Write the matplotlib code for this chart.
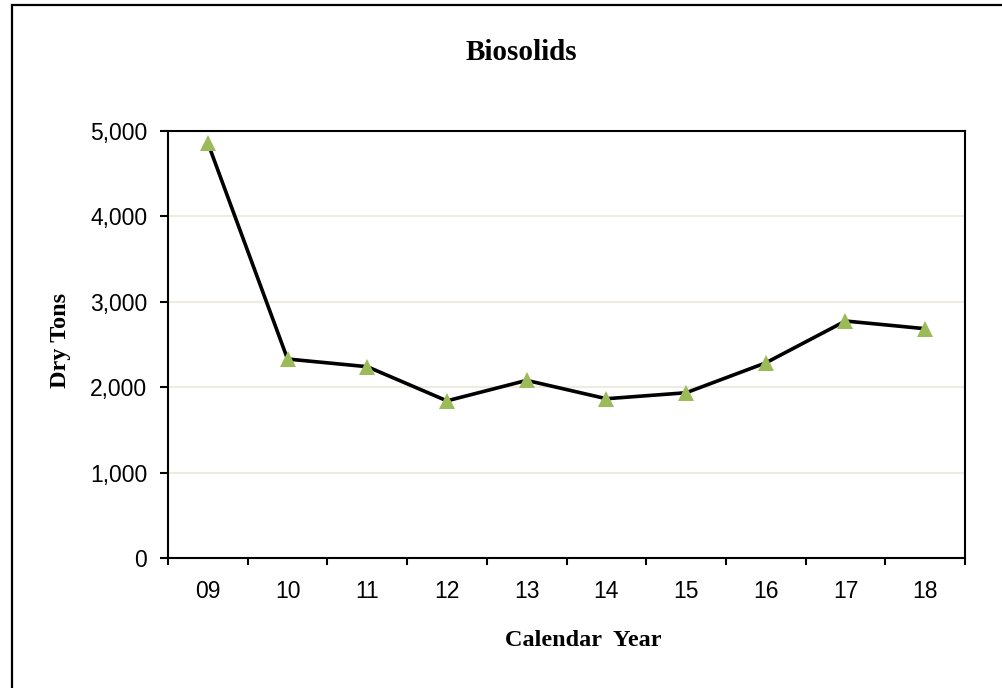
import numpy as np
import matplotlib
matplotlib.use("Agg")
import matplotlib.pyplot as plt
from matplotlib.patches import Rectangle
from matplotlib.ticker import FuncFormatter, FixedLocator

years = ['09', '10', '11', '12', '13', '14', '15', '16', '17', '18']
dry_tons = [4860, 2330, 2240, 1840, 2080, 1865, 1935, 2285, 2775, 2685]

fig = plt.figure(figsize=(10.03, 6.88), dpi=100)
ax = fig.add_axes([168/1003, 1 - 558/688, (965-168)/1003, (558-131)/688])

x = np.arange(len(years))
ax.plot(x, dry_tons, color='black', lw=2.6, marker='^', markersize=11.5,
        markerfacecolor='#9BBB59', markeredgewidth=0, zorder=3)

ax.set_xlim(-0.5, len(years) - 0.5)
ax.set_ylim(0, 5000)
ax.set_yticks(np.arange(0, 5001, 1000))
ax.yaxis.set_major_formatter(FuncFormatter(lambda v, p: f'{int(v):,}'))
ax.yaxis.grid(True, color='#EEECE1', lw=1.5, zorder=0)

ax.set_xticks(x)
ax.set_xticklabels(years)
ax.xaxis.set_minor_locator(FixedLocator(np.arange(-0.5, len(years), 1)))
ax.tick_params(axis='x', which='major', length=0, pad=16)
ax.tick_params(axis='x', which='minor', length=5, width=1.5, direction='out')
ax.tick_params(axis='y', length=6, width=1.5, direction='out', pad=9)
for lab in ax.get_xticklabels() + ax.get_yticklabels():
    lab.set_fontfamily('Liberation Sans')
    lab.set_fontsize(16.5)

for sp in ax.spines.values():
    sp.set_linewidth(1.5)
    sp.set_color('black')

fig.text(521/1003, 1 - 52/688, 'Biosolids', ha='center', va='center',
         family='Liberation Serif', weight='bold', fontsize=21)
fig.text(583/1003, 1 - 640/688, 'Calendar  Year', ha='center', va='center',
         family='Liberation Serif', weight='bold', fontsize=17.5)
fig.text(61/1003, 1 - 340/688, 'Dry Tons', ha='center', va='center', rotation=90,
         family='Liberation Serif', weight='bold', fontsize=17.5)

# outer chart border (right/bottom edges fall outside the image)
fig.patches.append(Rectangle((12.5/1003, -0.05), 1.05, 1 - 5.5/688 + 0.05,
                             transform=fig.transFigure, fill=False,
                             edgecolor='black', lw=1.6))

fig.savefig('out.png', dpi=100)
